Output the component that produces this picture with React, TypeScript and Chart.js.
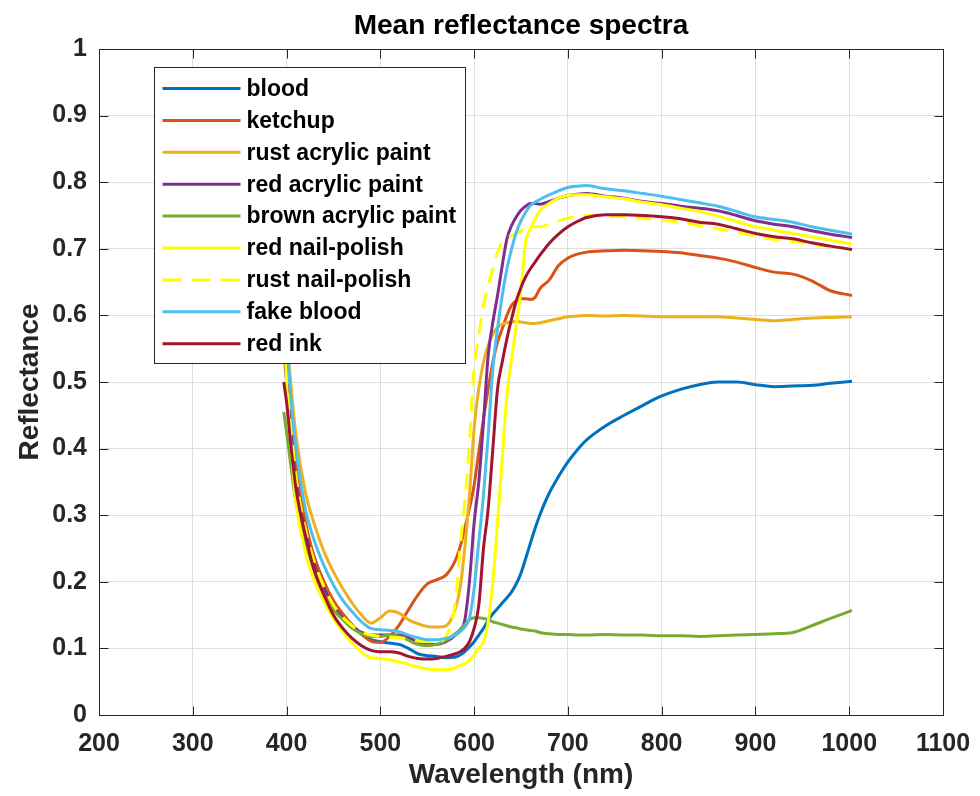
import React, { useEffect, useRef } from "react";
import { Chart, registerables } from "chart.js";

Chart.register(...registerables);

const FONT = "'Liberation Sans', Arial, Helvetica, sans-serif";

const titleText = "Mean reflectance spectra";
const xLabel = "Wavelength (nm)";
const yLabel = "Reflectance";

const wavelengths = [
  397, 400, 405, 410,
  420, 430, 440, 450, 460, 470, 480, 490, 500, 510, 520, 530, 540, 550, 560, 570, 580,
  585, 590, 595, 600, 605, 610, 615, 620, 625, 630, 635, 640, 645, 650, 655, 660, 665, 670,
  680, 690, 700, 710, 720,
  740, 760, 780, 800, 820, 840, 860, 880, 900, 920, 940, 960, 980,
  1003,
];

const blood = [
  0.58, 0.53, 0.44, 0.37,
  0.285, 0.235, 0.198, 0.17, 0.15, 0.135, 0.122, 0.113, 0.11, 0.108, 0.106, 0.1, 0.092, 0.089, 0.088, 0.086, 0.087,
  0.09, 0.095, 0.102, 0.11, 0.12, 0.13, 0.142, 0.152, 0.16, 0.168, 0.176, 0.185, 0.197, 0.213, 0.235, 0.258, 0.28, 0.3,
  0.333, 0.358, 0.38, 0.398, 0.413,
  0.434, 0.45, 0.465, 0.479, 0.489, 0.496, 0.5, 0.5, 0.496, 0.493, 0.494, 0.495, 0.498,
  0.501,
];

const ketchup = [
  0.57, 0.52, 0.44, 0.37,
  0.29, 0.235, 0.2, 0.172, 0.152, 0.135, 0.121, 0.111, 0.109, 0.118, 0.135, 0.158, 0.18, 0.197, 0.203, 0.21, 0.232,
  0.252, 0.28, 0.31, 0.345, 0.395, 0.445, 0.49, 0.53, 0.56, 0.58, 0.6, 0.615, 0.622, 0.625, 0.625, 0.624, 0.627, 0.64,
  0.653, 0.675, 0.686, 0.692, 0.695,
  0.697, 0.698, 0.697, 0.696, 0.694, 0.69, 0.686, 0.68, 0.672, 0.665, 0.662, 0.652, 0.637,
  0.63,
];

const rustAcrylic = [
  0.61, 0.57, 0.49, 0.42,
  0.335, 0.285, 0.245, 0.215, 0.19, 0.168, 0.15, 0.138, 0.146, 0.156, 0.153, 0.143, 0.137, 0.133, 0.132, 0.134, 0.16,
  0.19, 0.25, 0.33, 0.43, 0.49, 0.53, 0.555, 0.572, 0.582, 0.587, 0.589, 0.59, 0.591, 0.59, 0.589, 0.588, 0.588, 0.589,
  0.592, 0.595, 0.598, 0.599, 0.6,
  0.599, 0.6, 0.599, 0.598, 0.598, 0.598, 0.598, 0.596, 0.594, 0.592, 0.594, 0.596, 0.597,
  0.598,
];

const redAcrylic = [
  0.55, 0.5, 0.42, 0.35,
  0.275, 0.225, 0.19, 0.163, 0.145, 0.132, 0.124, 0.12, 0.12, 0.12, 0.12, 0.116, 0.11, 0.106, 0.106, 0.11, 0.12,
  0.128, 0.142, 0.2, 0.288, 0.35, 0.44, 0.54, 0.59, 0.63, 0.675, 0.715, 0.735, 0.748, 0.758, 0.764, 0.768, 0.768, 0.767,
  0.771, 0.776, 0.78, 0.782, 0.783,
  0.779, 0.776, 0.771, 0.768, 0.764, 0.761, 0.757, 0.75, 0.742, 0.737, 0.733, 0.727, 0.722,
  0.717,
];

const brownAcrylic = [
  0.455, 0.425, 0.37, 0.32,
  0.26, 0.215, 0.18, 0.158, 0.143, 0.13, 0.122, 0.118, 0.118, 0.12, 0.118, 0.112, 0.106, 0.104, 0.106, 0.112, 0.122,
  0.128, 0.136, 0.143, 0.146, 0.146, 0.145, 0.143, 0.14, 0.138, 0.136, 0.134, 0.132, 0.131, 0.129, 0.128, 0.127, 0.126, 0.124,
  0.122, 0.121, 0.121, 0.12, 0.12,
  0.121, 0.12, 0.12, 0.119, 0.119, 0.118, 0.119, 0.12, 0.121, 0.122, 0.124, 0.134, 0.145,
  0.157,
];

const redNailPolish = [
  0.6, 0.5, 0.4, 0.32,
  0.245, 0.2, 0.17, 0.145, 0.125, 0.108, 0.094, 0.086, 0.085, 0.083, 0.08, 0.076, 0.072, 0.069, 0.068, 0.068, 0.071,
  0.074, 0.077, 0.082, 0.09, 0.1, 0.11, 0.14, 0.2, 0.29, 0.385, 0.48, 0.535, 0.585, 0.64, 0.71, 0.73, 0.745, 0.757,
  0.768, 0.776, 0.78, 0.781, 0.781,
  0.778, 0.775, 0.77, 0.766, 0.761, 0.756, 0.749, 0.741, 0.733, 0.728, 0.723, 0.718, 0.713,
  0.707,
];

const rustNailPolish = [
  0.6, 0.53, 0.44, 0.36,
  0.28, 0.228, 0.192, 0.165, 0.147, 0.134, 0.125, 0.12, 0.118, 0.117, 0.116, 0.114, 0.111, 0.11, 0.11, 0.118, 0.17,
  0.25, 0.32, 0.41, 0.52, 0.57, 0.615, 0.645, 0.67, 0.695, 0.71, 0.716, 0.72, 0.723, 0.727, 0.73, 0.732, 0.733, 0.733,
  0.737, 0.742, 0.746, 0.749, 0.75,
  0.749, 0.748, 0.746, 0.743, 0.74, 0.735, 0.73, 0.725, 0.719, 0.714, 0.711, 0.707, 0.703,
  0.699,
];

const fakeBlood = [
  0.62, 0.56, 0.47, 0.4,
  0.31, 0.26, 0.224, 0.195, 0.172, 0.155, 0.14, 0.13, 0.128, 0.127, 0.125, 0.12, 0.116, 0.113, 0.113, 0.115, 0.12,
  0.125, 0.132, 0.145, 0.19, 0.26, 0.33, 0.42, 0.52, 0.58, 0.63, 0.67, 0.7, 0.725, 0.742, 0.755, 0.765, 0.77, 0.774,
  0.781, 0.787, 0.792, 0.794, 0.795,
  0.79, 0.787, 0.783, 0.779, 0.774, 0.769, 0.764, 0.756, 0.748, 0.744, 0.74, 0.733, 0.728,
  0.722,
];

const redInk = [
  0.5, 0.47, 0.4, 0.34,
  0.27, 0.215, 0.18, 0.15, 0.13, 0.115, 0.104, 0.097, 0.095, 0.095, 0.093, 0.088, 0.085, 0.084, 0.085, 0.088, 0.092,
  0.095, 0.1, 0.11, 0.13, 0.165, 0.25, 0.31, 0.4, 0.49, 0.53, 0.565, 0.595, 0.622, 0.642, 0.658, 0.67, 0.68, 0.69,
  0.708, 0.722, 0.733, 0.741, 0.747,
  0.751, 0.751, 0.75, 0.748, 0.745, 0.74, 0.737, 0.73, 0.723, 0.718, 0.715, 0.709, 0.704,
  0.699,
];

const seriesNames = [
  "blood",
  "ketchup",
  "rust acrylic paint",
  "red acrylic paint",
  "brown acrylic paint",
  "red nail-polish",
  "rust nail-polish",
  "fake blood",
  "red ink",
];
const seriesValues = [blood, ketchup, rustAcrylic, redAcrylic, brownAcrylic, redNailPolish, rustNailPolish, fakeBlood, redInk];
const seriesColors = ["#0072BD", "#D95319", "#EDB120", "#7E2F8E", "#77AC30", "#FFFF00", "#FFFF00", "#4DBEEE", "#A2142F"];
const seriesDashed = [false, false, false, false, false, false, true, false, false];

const xMin = 200, xMax = 1100, xStep = 100;
const yMin = 0, yMax = 1, yStep = 0.1;

const matlabPlugin = {
  id: "matlabDecor",
  afterDatasetsDraw(chart: any) {
    const { ctx, chartArea: a, scales } = chart;
    ctx.save();
    ctx.strokeStyle = "#262626";
    ctx.lineWidth = 1;
    ctx.setLineDash([]);
    const L = Math.round(a.left) + 0.5, R = Math.round(a.right) + 0.5;
    const T = Math.round(a.top) + 0.5, B = Math.round(a.bottom) + 0.5;
    ctx.strokeRect(L, T, R - L, B - T);
    const tl = 9;
    ctx.beginPath();
    scales.x.ticks.forEach((t: any) => {
      const x = Math.round(scales.x.getPixelForValue(t.value)) + 0.5;
      ctx.moveTo(x, B); ctx.lineTo(x, B - tl);
      ctx.moveTo(x, T); ctx.lineTo(x, T + tl);
    });
    scales.y.ticks.forEach((t: any) => {
      const y = Math.round(scales.y.getPixelForValue(t.value)) + 0.5;
      ctx.moveTo(L, y); ctx.lineTo(L + tl, y);
      ctx.moveTo(R, y); ctx.lineTo(R - tl, y);
    });
    ctx.stroke();

    ctx.fillStyle = "#000";
    ctx.font = `bold 28px ${FONT}`;
    ctx.textAlign = "center";
    ctx.textBaseline = "alphabetic";
    ctx.fillText(titleText, (a.left + a.right) / 2, 34);

    const ds = chart.data.datasets;
    ctx.font = `bold 23px ${FONT}`;
    let maxW = 0;
    ds.forEach((d: any) => { maxW = Math.max(maxW, ctx.measureText(d.label).width); });
    const bx = Math.round(a.left + 55) + 0.5;
    const by = Math.round(a.top + 18) + 0.5;
    const rowH = 31.9;
    const sampleLen = 78;
    const bw = Math.round(8 + sampleLen + 6 + maxW + 9);
    const bh = Math.round(21 + rowH * (ds.length - 1) + 19.5);
    ctx.fillStyle = "#fff";
    ctx.fillRect(bx, by, bw, bh);
    ctx.strokeStyle = "#262626";
    ctx.lineWidth = 1;
    ctx.strokeRect(bx, by, bw, bh);
    ds.forEach((d: any, i: number) => {
      const cy = by + 21 + i * rowH;
      ctx.strokeStyle = d.borderColor;
      ctx.lineWidth = 3;
      ctx.setLineDash(d.borderDash && d.borderDash.length ? [19, 10] : []);
      ctx.beginPath();
      ctx.moveTo(bx + 8, cy);
      ctx.lineTo(bx + 8 + sampleLen, cy);
      ctx.stroke();
      ctx.setLineDash([]);
      ctx.fillStyle = "#000";
      ctx.textAlign = "left";
      ctx.textBaseline = "middle";
      ctx.fillText(d.label, bx + 8 + sampleLen + 6, cy + 1);
    });
    ctx.restore();
  },
};

export default function App() {
  const canvasRef = useRef<HTMLCanvasElement>(null);

  useEffect(() => {
    const canvas = canvasRef.current;
    if (!canvas) return;
    const n = seriesNames.length;
    const datasets = seriesNames.map((name, i) => ({
      label: name,
      data: wavelengths.map((w, j) => ({ x: w, y: seriesValues[i][j] })),
      borderColor: seriesColors[i],
      backgroundColor: seriesColors[i],
      borderWidth: 3,
      borderDash: seriesDashed[i] ? [16, 10] : [],
      pointRadius: 0,
      fill: false,
      cubicInterpolationMode: "monotone" as const,
      borderJoinStyle: "round" as const,
      order: n - 1 - i,
    }));

    const chart = new Chart(canvas, {
      type: "line",
      data: { datasets },
      options: {
        responsive: false,
        animation: false,
        devicePixelRatio: 1,
        layout: { padding: { left: 0, top: 49, right: 37, bottom: 0 } },
        plugins: {
          legend: { display: false },
          title: { display: false },
          tooltip: { enabled: false },
        },
        scales: {
          x: {
            type: "linear",
            min: xMin,
            max: xMax,
            ticks: {
              stepSize: xStep,
              autoSkip: false,
              maxRotation: 0,
              padding: 14,
              color: "#262626",
              font: { family: FONT, size: 25, weight: "bold" },
              callback: (v: any) => String(Math.round(Number(v))),
            },
            grid: { color: "#dfdfdf", lineWidth: 1, drawTicks: false },
            border: { display: false },
            title: {
              display: true,
              text: xLabel,
              color: "#262626",
              font: { family: FONT, size: 28, weight: "bold" },
              padding: { top: 0, bottom: 4 },
            },
            afterFit: (s: any) => { s.height = 81; s.paddingLeft = 0; s.paddingRight = 0; },
          },
          y: {
            type: "linear",
            min: yMin,
            max: yMax,
            ticks: {
              stepSize: yStep,
              padding: 12,
              color: "#262626",
              font: { family: FONT, size: 25, weight: "bold" },
              callback: (v: any) => String(Math.round(Number(v) * 10) / 10),
            },
            grid: { color: "#dfdfdf", lineWidth: 1, drawTicks: false },
            border: { display: false },
            title: {
              display: true,
              text: yLabel,
              color: "#262626",
              font: { family: FONT, size: 28, weight: "bold" },
              padding: { top: 13, bottom: 0 },
            },
            afterFit: (s: any) => { s.width = 99; s.paddingTop = 0; s.paddingBottom = 0; },
          },
        },
      },
      plugins: [matlabPlugin],
    } as any);

    return () => chart.destroy();
  }, []);

  return (
    <div style={{ position: "absolute", left: 0, top: 0, width: 980, height: 796, background: "#fff" }}>
      <canvas ref={canvasRef} width={980} height={796} style={{ display: "block" }} />
    </div>
  );
}
